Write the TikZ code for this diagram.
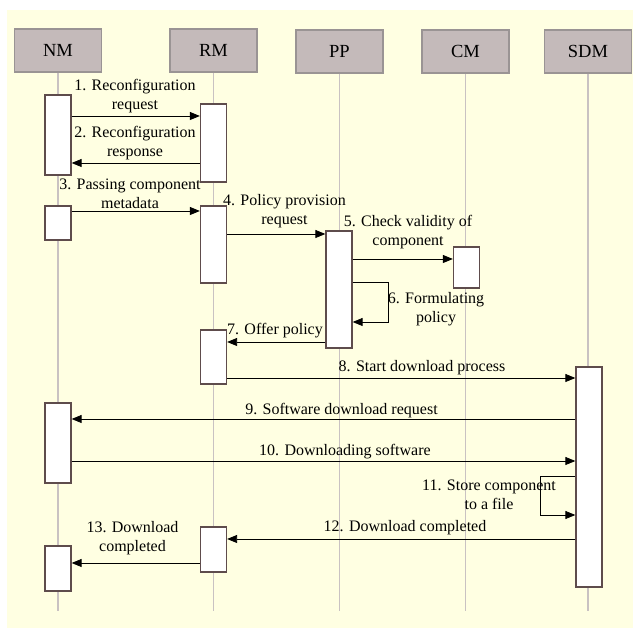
\documentclass[tikz,border=0pt]{standalone}
\usepackage{fontspec}
\setmainfont{Liberation Serif}
\usetikzlibrary{arrows.meta}
\definecolor{paper}{HTML}{FFFFE2}
\definecolor{headfill}{HTML}{C4BABA}
\definecolor{headline}{HTML}{9A9494}
\definecolor{lifegray}{HTML}{C9C2C2}
\definecolor{actline}{HTML}{5E4C4C}
\begin{document}
\begin{tikzpicture}[x=1pt,y=-1pt,
  header/.style={draw=headline, line width=1.2pt, fill=headfill,
    minimum width=87pt, minimum height=43pt, inner sep=0pt,
    font=\fontsize{18.5}{20}\selectfont},
  life/.style={draw=lifegray, line width=1.2pt},
  act/.style={draw=actline, line width=1.3pt, fill=white,
    minimum width=26pt, inner sep=0pt},
  msg/.style={draw=black, line width=0.9pt,
    -{Triangle[length=10pt,width=8pt]}},
  lbl/.style={inner sep=0pt, align=center,
    font=\fontsize{16}{19}\selectfont}]
\useasboundingbox (0,0) rectangle (633,628);
\fill[paper] (7,10) rectangle (633,628);

% participants
\node[header] (NM)  at (58,50.5)    {NM};
\node[header] (RM)  at (213.5,50.5) {RM};
\node[header] (PP)  at (339.5,51.5) {PP};
\node[header] (CM)  at (465.5,51.5) {CM};
\node[header] (SDM) at (588,51.5)   {SDM};

% lifelines
\coordinate (bottom) at (0,611);
\foreach \p in {NM,RM,PP,CM,SDM}
  \draw[life] (\p.south) -- (\p.south |- bottom);

% activation bars
\node[act, minimum height=80pt]  (nmA)  at (58,135)    {};
\node[act, minimum height=78pt]  (rmA)  at (213.5,143) {};
\node[act, minimum height=34pt]  (nmB)  at (58,223)    {};
\node[act, minimum height=77pt]  (rmB)  at (213.5,244.5) {};
\node[act, minimum height=117pt] (ppA)  at (339,289.5) {};
\node[act, minimum height=41pt]  (cmA)  at (466.5,267.5) {};
\node[act, minimum height=54pt]  (rmC)  at (213.5,357) {};
\node[act, minimum height=220pt] (sdmA) at (589,477)   {};
\node[act, minimum height=80pt]  (nmC)  at (58,443)    {};
\node[act, minimum height=45pt]  (rmD)  at (213.5,549.5) {};
\node[act, minimum height=45pt]  (nmD)  at (58,568.5)  {};

% message levels
\coordinate (m1) at (0,116);
\coordinate (m2) at (0,163);
\coordinate (m3) at (0,211);
\coordinate (m4) at (0,234);
\coordinate (m5) at (0,259);
\coordinate (l6a) at (388,282);
\coordinate (l6b) at (388,322);
\coordinate (m7) at (0,342);
\coordinate (m8) at (0,378);
\coordinate (m9) at (0,419);
\coordinate (m10) at (0,461);
\coordinate (l11a) at (540,476);
\coordinate (l11b) at (540,515);
\coordinate (m12) at (0,539);
\coordinate (m13) at (0,563);

% messages
\draw[msg] (nmA.east |- m1) -- (rmA.west |- m1);
\draw[msg] (rmA.west |- m2) -- (nmA.east |- m2);
\draw[msg] (nmB.east |- m3) -- (rmB.west |- m3);
\draw[msg] (rmB.east |- m4) -- (ppA.west |- m4);
\draw[msg] (ppA.east |- m5) -- (cmA.west |- m5);
\draw[msg] (ppA.east |- l6a) -- (l6a) -- (l6b) -- (ppA.east |- l6b);
\draw[msg] (ppA.west |- m7) -- (rmC.east |- m7);
\draw[msg] (rmC.east |- m8) -- (sdmA.west |- m8);
\draw[msg] (sdmA.west |- m9) -- (nmC.east |- m9);
\draw[msg] (nmC.east |- m10) -- (sdmA.west |- m10);
\draw[msg] (sdmA.west |- l11a) -- (l11a) -- (l11b) -- (sdmA.west |- l11b);
\draw[msg] (sdmA.west |- m12) -- (rmD.east |- m12);
\draw[msg] (rmD.west |- m13) -- (nmD.east |- m13);

% message labels
\node[lbl] (t1)  at (135,96.5)   {1. Reconfiguration\\request};
\node[lbl] (t2)  at (135,143)    {2. Reconfiguration\\response};
\node[lbl] (t3)  at (130,193.5)  {3. Passing component\\metadata};
\node[lbl] (t4)  at (284.5,211.5){4. Policy provision\\request};
\node[lbl] (t5)  at (408,232.5)  {5. Check validity of\\component};
\node[lbl] (t6)  at (436,309.5)  {6. Formulating\\policy};
\node[lbl] (t7)  at (275,331)    {7. Offer policy};
\node[lbl] (t8)  at (422,368)    {8. Start download process};
\node[lbl] (t9)  at (341.5,411)  {9. Software download request};
\node[lbl] (t10) at (345,452)    {10. Downloading software};
\node[lbl] (t11) at (489,495)    {11. Store component\\to a file};
\node[lbl] (t12) at (405,528)    {12. Download completed};
\node[lbl] (t13) at (132.5,538.5){13. Download\\completed};
\end{tikzpicture}
\end{document}
